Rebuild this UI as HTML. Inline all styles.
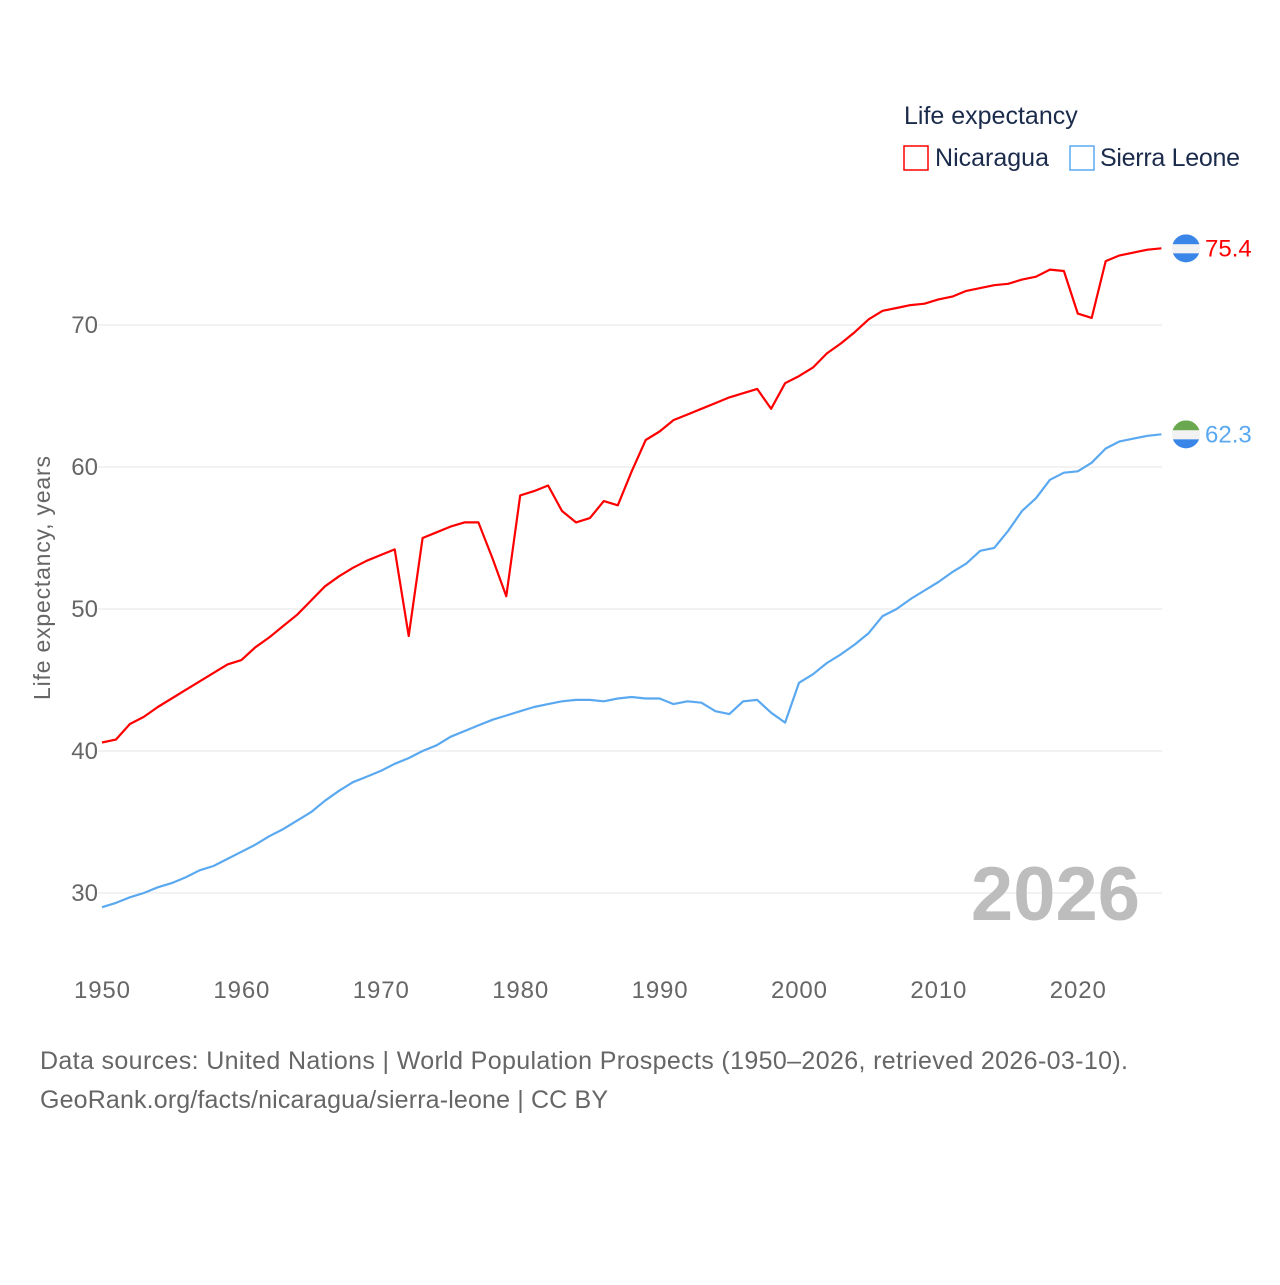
<!DOCTYPE html>
<html><head><meta charset="utf-8"><style>
body{margin:0;background:#fff;font-family:"Liberation Sans",sans-serif}
svg text{font-family:"Liberation Sans",sans-serif}
</style></head><body>
<svg width="1280" height="1280" viewBox="0 0 1280 1280">
<g id="grid"></g>
<g id="lines"></g>
<text x="1140" y="920" text-anchor="end" font-size="76" font-weight="bold" fill="#bdbdbd">2026</text>
<text x="904" y="124" font-size="25" fill="#1b2b4b">Life expectancy</text>
<g><rect x="904" y="146" width="24" height="24" fill="none" stroke="#ff0000" stroke-width="1.5"/><text x="935" y="166" font-size="25" fill="#1b2b4b" textLength="114">Nicaragua</text></g>
<g><rect x="1070" y="146" width="24" height="24" fill="none" stroke="#5aa9f0" stroke-width="1.5"/><text x="1100" y="166" font-size="25" fill="#1b2b4b" textLength="140">Sierra Leone</text></g>
<text transform="translate(50,578) rotate(-90)" text-anchor="middle" font-size="23" fill="#666" textLength="244">Life expectancy, years</text>
<text x="40" y="1069" font-size="25" fill="#666" textLength="1088">Data sources: United Nations | World Population Prospects (1950–2026, retrieved 2026-03-10).</text>
<text x="40" y="1108" font-size="25" fill="#666" textLength="568">GeoRank.org/facts/nicaragua/sierra-leone | CC BY</text>
</svg>
<script>
const years=[];for(let y=1950;y<=2026;y++)years.push(y);
const nicaragua=[40.6,40.8,41.9,42.4,43.1,43.7,44.3,44.9,45.5,46.1,46.4,47.3,48.0,48.8,49.6,50.6,51.6,52.3,52.9,53.4,53.8,54.2,48.1,55.0,55.4,55.8,56.1,56.1,53.6,50.9,58.0,58.3,58.7,56.9,56.1,56.4,57.6,57.3,59.7,61.9,62.5,63.3,63.7,64.1,64.5,64.9,65.2,65.5,64.1,65.9,66.4,67.0,68.0,68.7,69.5,70.4,71.0,71.2,71.4,71.5,71.8,72.0,72.4,72.6,72.8,72.9,73.2,73.4,73.9,73.8,70.8,70.5,74.5,74.9,75.1,75.3,75.4];
const sierraLeone=[29.0,29.3,29.7,30.0,30.4,30.7,31.1,31.6,31.9,32.4,32.9,33.4,34.0,34.5,35.1,35.7,36.5,37.2,37.8,38.2,38.6,39.1,39.5,40.0,40.4,41.0,41.4,41.8,42.2,42.5,42.8,43.1,43.3,43.5,43.6,43.6,43.5,43.7,43.8,43.7,43.7,43.3,43.5,43.4,42.8,42.6,43.5,43.6,42.7,42.0,44.8,45.4,46.2,46.8,47.5,48.3,49.5,50.0,50.7,51.3,51.9,52.6,53.2,54.1,54.3,55.5,56.9,57.8,59.1,59.6,59.7,60.3,61.3,61.8,62.0,62.2,62.3];
const yTicks=[30,40,50,60,70];
const xTicks=[1950,1960,1970,1980,1990,2000,2010,2020];
const NS="http://www.w3.org/2000/svg";
const xs=y=>102+(y-1950)*13.94;
const ys=v=>325+(70-v)*14.2;
const grid=document.getElementById('grid'),lines=document.getElementById('lines');
function mk(t,a,p){const e=document.createElementNS(NS,t);for(const k in a)e.setAttribute(k,a[k]);p.appendChild(e);return e;}
yTicks.forEach(v=>{
 const l=mk('line',{x1:98,x2:1162,y1:ys(v),y2:ys(v),stroke:'#e6e6e6','stroke-width':1},grid);
 
 
 const t=mk('text',{x:98,y:ys(v)+8,'text-anchor':'end','font-size':24,fill:'#666'},grid);t.textContent=v;
 
 
});
xTicks.forEach(v=>{
 const t=mk('text',{x:xs(v),y:998,'text-anchor':'middle','font-size':24,fill:'#666',textLength:56},grid);t.textContent=v;
 
 
});
function series(vals,color,name,flag){
 const d=vals.map((v,i)=>(i?'L':'M')+xs(years[i]).toFixed(1)+','+ys(v).toFixed(1)).join('');
 const p=mk('path',{d:d,fill:'none',stroke:color,'stroke-width':2.2,'stroke-linejoin':'round'},lines);
 
 
 const last=vals[vals.length-1],cx=1186,cy=ys(last);
 const g=mk('g',{},lines);
 
 
 const id='c'+name;
 const cp=mk('clipPath',{id:id},g);mk('circle',{cx:cx,cy:cy,r:14},cp);
 const gg=mk('g',{'clip-path':'url(#'+id+')'},g);
 mk('rect',{x:cx-14,y:cy-14,width:28,height:10,fill:flag[0]},gg);
 mk('rect',{x:cx-14,y:cy-4,width:28,height:9,fill:flag[1]},gg);
 mk('rect',{x:cx-14,y:cy+5,width:28,height:10,fill:flag[2]},gg);
 const t=mk('text',{x:1205,y:cy+8,'font-size':24,fill:color},lines);t.textContent=last.toFixed(1);
 
 
}
series(nicaragua,'#ff0000','nicaragua',['#3a86e8','#f2f2f2','#3a86e8']);
series(sierraLeone,'#5aa9f0','sierra-leone',['#6aa84f','#f2f2f2','#3a86e8']);
</script>
</body></html>
